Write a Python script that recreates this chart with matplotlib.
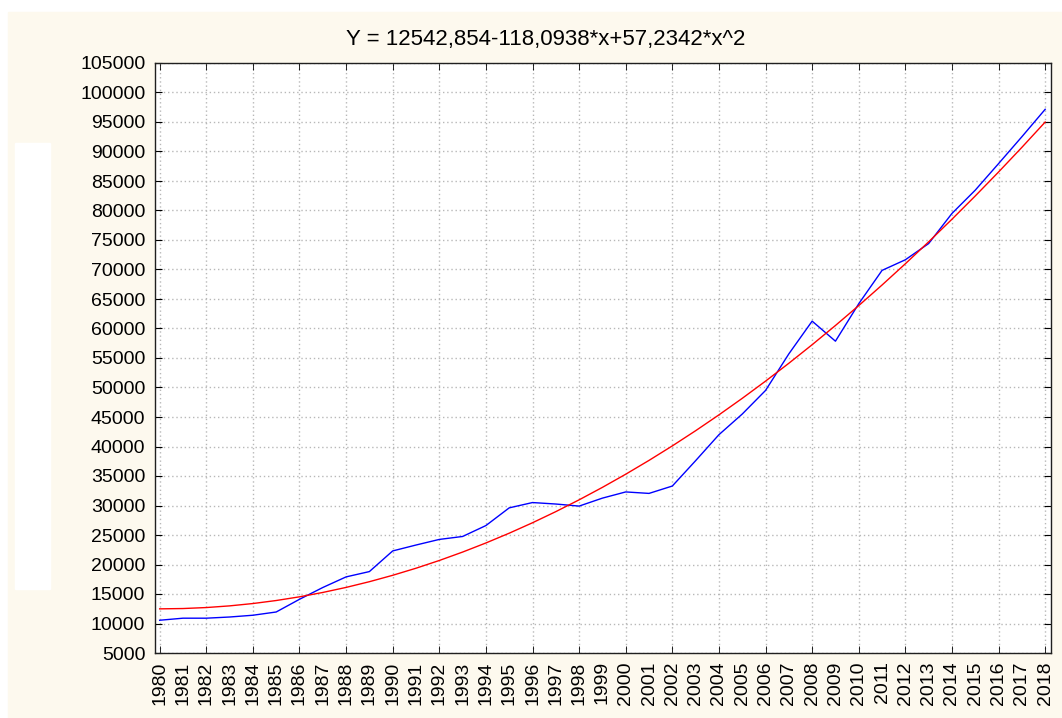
import numpy as np
import matplotlib.pyplot as plt
from matplotlib.patches import Rectangle
from matplotlib.ticker import MultipleLocator

plt.rcParams['font.family'] = ['Liberation Sans', 'DejaVu Sans']

years = list(range(1980, 2019))
values = [10550, 10900, 10900, 11100, 11400, 11950, 14100, 16100, 17900, 18800,
          22300, 23300, 24250, 24750, 26600, 29600, 30500, 30250, 29900, 31250,
          32300, 32050, 33300, 37600, 42000, 45500, 49500, 55700, 61250, 57850,
          64200, 69850, 71650, 74400, 79500, 83450, 87950, 92500, 97150]

# коэффициенты регрессии из заголовка
b0, b1, b2 = 12542.854, -118.0938, 57.2342
title = "Y = 12542,854-118,0938*x+57,2342*x^2"

bg = '#fdf9ee'
fig = plt.figure(figsize=(10.62, 7.18), dpi=100)
fig.patch.set_facecolor('white')
# кремовая подложка и белая вставка слева
fig.patches.append(Rectangle((8 / 1062, 0), 1 - 8 / 1062, 1 - 12 / 718,
                             transform=fig.transFigure, color=bg, zorder=-2))
fig.patches.append(Rectangle((15 / 1062, 1 - 589 / 718), 35 / 1062, 446 / 718,
                             transform=fig.transFigure, color='white', zorder=-1))

ax = fig.add_axes([155 / 1062, 1 - 653 / 718, 896 / 1062, 590 / 718])
ax.set_facecolor('white')

t = np.arange(1, len(years) + 1)
fit = b0 + b1 * t + b2 * t ** 2
ax.plot(years, values, color='#0000ff', lw=1.0, zorder=3)
ax.plot(years, fit, color='#ff0000', lw=1.0, zorder=3)

ax.set_xlim(1979.8, 2018.25)
ax.set_ylim(5000, 105000)
ax.set_yticks(range(5000, 105001, 5000))
ax.set_xticks(years)
ax.set_xticklabels([str(y) for y in years], rotation=90)
# засечки и сетка по оси X только через год
ax.xaxis.remove_overlapping_locs = False
ax.xaxis.set_minor_locator(MultipleLocator(2))
ax.tick_params(axis='x', which='major', length=0, pad=6, labelsize=14)
ax.tick_params(axis='x', which='minor', direction='in', length=5, top=True, bottom=True)
ax.tick_params(axis='y', which='major', direction='in', length=5, left=True, right=True,
               labelsize=14, pad=7)
ax.grid(True, axis='x', which='minor', color='#b8b8b8', linestyle=(0, (1, 2)), lw=1.0)
ax.grid(True, axis='y', which='major', color='#b8b8b8', linestyle=(0, (1, 2)), lw=1.0)
for s in ax.spines.values():
    s.set_linewidth(1.0)
    s.set_color('#202020')

fig.text(546 / 1062, 1 - 40 / 718, title, ha='center', va='center', fontsize=16)

fig.savefig('out.png', dpi=100, facecolor=fig.get_facecolor())
